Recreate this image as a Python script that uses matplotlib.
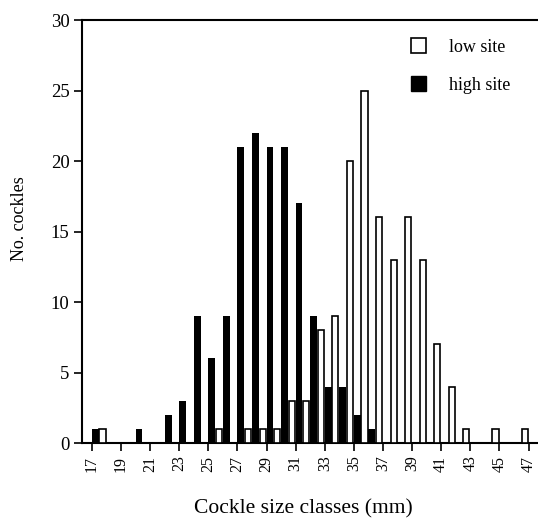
import numpy as np
import matplotlib
matplotlib.use('Agg')
import matplotlib.pyplot as plt
from matplotlib.patches import Patch

plt.rcParams['font.family'] = ['Liberation Serif', 'DejaVu Serif']

# size classes (mm), lower bound of each 1 mm class
classes = list(range(17, 47))
low_site = [1, 0, 0, 0, 0, 0, 0, 0, 1, 0, 1, 1, 1, 3, 3,
            8, 9, 20, 25, 16, 13, 16, 13, 7, 4, 1, 0, 1, 0, 1]
high_site = [1, 0, 0, 1, 0, 2, 3, 9, 6, 9, 21, 22, 21, 21, 17,
             9, 4, 4, 2, 1, 0, 0, 0, 0, 0, 0, 0, 0, 0, 0]
tick_labels = list(range(17, 48, 2))

fig = plt.figure(figsize=(5.38, 5.20), dpi=100)
ax = fig.add_axes([0.1524, 0.148, 0.8476, 0.8135])

x = np.array(classes)
ax.bar(x, high_site, width=0.47, align='edge', color='black', zorder=3)
ax.bar(x + 0.52, low_site, width=0.42, align='edge', facecolor='white',
       edgecolor='black', linewidth=1.2, zorder=3)

ax.set_xlim(16.32, 47.65)
ax.set_ylim(0, 30)
ax.set_xticks(tick_labels)
ax.set_xticklabels([str(t) for t in tick_labels], rotation=90, fontsize=11.5)
ax.set_yticks(range(0, 31, 5))
ax.tick_params(axis='y', labelsize=13.5, length=6, width=1.2, pad=3)
ax.tick_params(axis='x', length=6, width=1.2, pad=3)

ax.spines['right'].set_visible(False)
for s in ['left', 'top', 'bottom']:
    ax.spines[s].set_linewidth(1.5)

ax.set_xlabel('Cockle size classes (mm)', fontsize=15.5)
ax.xaxis.set_label_coords(0.485, -0.132)
ax.set_ylabel('No. cockles', fontsize=13)
ax.yaxis.set_label_coords(-0.118, 0.53)

handles = [Patch(facecolor='white', edgecolor='black', linewidth=1.2, label='low site'),
           Patch(facecolor='black', edgecolor='black', label='high site')]
ax.legend(handles=handles, loc='upper right', bbox_to_anchor=(0.975, 0.995),
          frameon=False, fontsize=13, handlelength=0.8, handleheight=0.9,
          handletextpad=1.3, labelspacing=1.1)

fig.savefig('out.png', dpi=100)
